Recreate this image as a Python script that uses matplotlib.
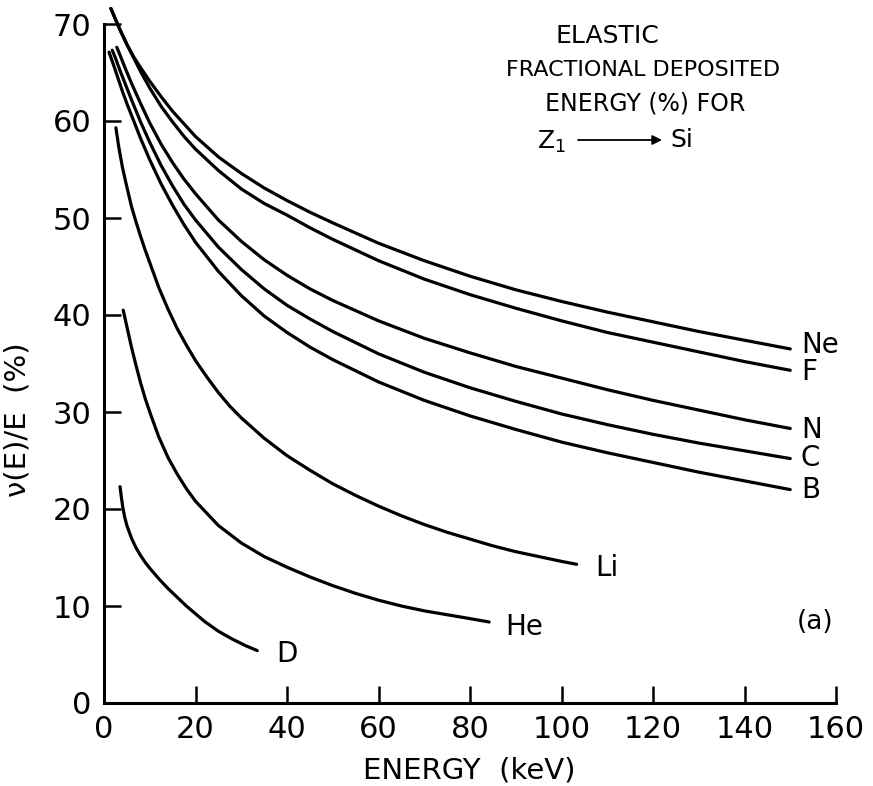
import matplotlib
matplotlib.use("Agg")
import matplotlib.pyplot as plt

# ---------------- data ----------------
x_ticks = [0, 20, 40, 60, 80, 100, 120, 140, 160]
y_ticks = [0, 10, 20, 30, 40, 50, 60, 70]

ne_E = [1.5, 2.5, 3.5, 5, 6.5, 8, 10, 12.5, 15, 17.5, 20, 25, 30, 35, 40, 45, 50,
        60, 70, 80, 90, 100, 110, 120, 130, 140, 150]
ne_v = [71.6, 70.5, 69.4, 67.9, 66.6, 65.5, 64.1, 62.5, 61.0, 59.7, 58.4, 56.3, 54.6,
        53.1, 51.8, 50.6, 49.5, 47.4, 45.6, 44.0, 42.6, 41.4, 40.3, 39.3, 38.3, 37.4, 36.5]

f_E = [1.5, 2.5, 3.5, 5, 6.5, 8, 10, 12.5, 15, 17.5, 20, 25, 30, 35, 40, 45, 50,
       60, 70, 80, 90, 100, 110, 120, 130, 140, 150]
f_v = [71.6, 70.5, 69.4, 67.9, 66.5, 65.1, 63.4, 61.5, 59.9, 58.4, 57.1, 54.9, 53.0,
       51.5, 50.3, 49.0, 47.8, 45.6, 43.7, 42.1, 40.7, 39.4, 38.2, 37.2, 36.2, 35.2, 34.3]

n_E = [2.8, 3.5, 4.5, 6, 8, 10, 12.5, 15, 17.5, 20, 25, 30, 35, 40, 45, 50,
       60, 70, 80, 90, 100, 110, 120, 130, 140, 150]
n_v = [67.6, 66.8, 65.6, 63.9, 61.8, 59.8, 57.6, 55.7, 54.0, 52.5, 49.8, 47.6, 45.7,
       44.1, 42.7, 41.5, 39.4, 37.6, 36.1, 34.7, 33.5, 32.3, 31.2, 30.2, 29.2, 28.3]

c_E = [1.8, 2.5, 3.5, 4.5, 6, 8, 10, 12.5, 15, 17.5, 20, 25, 30, 35, 40, 45, 50,
       60, 70, 80, 90, 100, 110, 120, 130, 140, 150]
c_v = [67.3, 66.5, 65.2, 64.0, 62.2, 59.9, 57.8, 55.4, 53.3, 51.4, 49.8, 47.0, 44.7,
       42.7, 41.0, 39.6, 38.3, 36.0, 34.1, 32.5, 31.1, 29.8, 28.7, 27.7, 26.8, 26.0, 25.2]

b_E = [1.1, 2, 3, 4, 5, 6.5, 8, 10, 12.5, 15, 17.5, 20, 25, 30, 35, 40, 45, 50,
       60, 70, 80, 90, 100, 110, 120, 130, 140, 150]
b_v = [67.1, 65.9, 64.5, 63.1, 61.8, 60.0, 58.2, 56.0, 53.5, 51.3, 49.3, 47.5, 44.5,
       42.0, 39.9, 38.2, 36.7, 35.4, 33.1, 31.2, 29.6, 28.2, 26.9, 25.8, 24.8, 23.8, 22.9, 22.0]

li_E = [2.6, 3.2, 4, 4.8, 6, 7, 8, 9, 10, 12, 14, 16, 18, 20, 22.5, 25, 27.5, 30,
        35, 40, 45, 50, 55, 60, 65, 70, 75, 80, 85, 90, 95, 100, 103.3]
li_v = [59.3, 57.4, 55.3, 53.6, 51.2, 49.6, 48.1, 46.7, 45.4, 42.8, 40.6, 38.6, 36.9,
        35.3, 33.6, 32.0, 30.6, 29.4, 27.3, 25.5, 24.0, 22.6, 21.4, 20.3, 19.3, 18.4,
        17.6, 16.9, 16.2, 15.6, 15.1, 14.6, 14.3]

he_E = [4.2, 5, 6, 7, 8, 9, 10, 12, 14, 16, 18, 20, 25, 30, 35, 40, 45, 50, 55, 60,
        65, 70, 75, 80, 84.2]
he_v = [40.5, 38.8, 36.7, 34.8, 33.0, 31.4, 30.0, 27.4, 25.3, 23.6, 22.1, 20.8, 18.3,
        16.5, 15.1, 14.0, 13.0, 12.1, 11.3, 10.6, 10.0, 9.5, 9.1, 8.7, 8.35]

d_E = [3.5, 3.8, 4.1, 4.5, 5, 6, 7, 8, 9, 10, 12, 14, 16, 18, 20, 22, 25, 28, 31, 33.5]
d_v = [22.3, 21.2, 20.2, 19.2, 18.3, 17.0, 16.0, 15.2, 14.5, 13.9, 12.8, 11.8, 10.9,
       10.0, 9.2, 8.4, 7.4, 6.6, 5.9, 5.4]

curve_names = ["Ne", "F", "N", "C", "B", "Li", "He", "D"]
label_E = [152.3, 152.3, 152.3, 152.3, 152.3, 107.3, 87.8, 37.6]
label_v = [36.9, 34.1, 28.1, 25.3, 22.0, 13.9, 7.8, 5.1]

title_lines = ["ELASTIC", "FRACTIONAL DEPOSITED", "ENERGY (%) FOR"]

# ---------------- figure ----------------
W, H = 873, 786
FONT = "DejaVu Sans"
plt.rcParams["font.family"] = [FONT]

fig = plt.figure(figsize=(W / 100, H / 100), dpi=100)
fig.patch.set_facecolor("white")


def px(x, y):
    return x / W, 1 - y / H


x0, x1, y0, y1 = 104, 836, 703, 24
ax = fig.add_axes([x0 / W, (H - y0) / H, (x1 - x0) / W, (y0 - y1) / H])
ax.set_xlim(0, 160)
ax.set_ylim(0, 70)
ax.set_facecolor("white")

series = [(ne_E, ne_v), (f_E, f_v), (n_E, n_v), (c_E, c_v), (b_E, b_v),
          (li_E, li_v), (he_E, he_v), (d_E, d_v)]
for (e, v) in series:
    ax.plot(e, v, color="black", lw=2.3, clip_on=False, solid_capstyle="round",
            solid_joinstyle="round")

for name, le, lv in zip(curve_names, label_E, label_v):
    ax.text(le, lv, name, fontsize=20, ha="left", va="center", color="black")
ax.text(151.5, 8.3, "(a)", fontsize=19, ha="left", va="center", color="black")

for s in ["top", "right"]:
    ax.spines[s].set_visible(False)
for s in ["left", "bottom"]:
    ax.spines[s].set_linewidth(2.2)

ax.set_xticks(x_ticks)
ax.set_yticks(y_ticks)
ax.set_xticklabels([str(t) for t in x_ticks])
ax.set_yticklabels([str(t) for t in y_ticks])
ax.tick_params(direction="in", length=12, width=1.8, labelsize=22, pad=9,
               colors="black")

# axis titles
fig.text(*px(469, 770), "ENERGY  (keV)", fontsize=21, ha="center", va="center")
fig.text(*px(18, 420), "ν(E)/E  (%)", fontsize=21, ha="center", va="center",
         rotation=90)

# chart title block
title_y = [36, 70, 104]
title_x = [607, 643, 645]
title_size = [18, 16, 17]
for t, tx, ty, ts in zip(title_lines, title_x, title_y, title_size):
    fig.text(*px(tx, ty), t, fontsize=ts, ha="center", va="center")

fig.text(*px(551, 142), r"Z$_{\mathregular{1}}$", fontsize=18, ha="center", va="center")
ax.annotate("", xy=px(662, 140), xytext=px(578, 140), xycoords="figure fraction",
            textcoords="figure fraction",
            arrowprops=dict(arrowstyle="-|>", color="black", lw=1.3,
                            mutation_scale=14, shrinkA=0, shrinkB=0))
fig.text(*px(682, 140), "Si", fontsize=18, ha="center", va="center")

fig.savefig("out.png", dpi=100, facecolor="white")
